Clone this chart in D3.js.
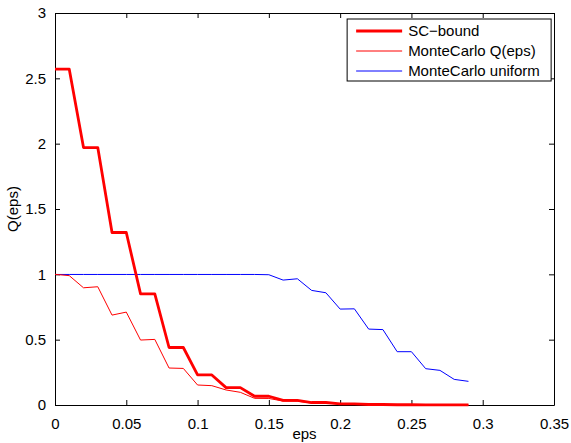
<!DOCTYPE html>
<html>
<head>
<meta charset="utf-8">
<script src="https://cdn.jsdelivr.net/npm/d3@7"></script>
<style>
  body { margin: 0; background: #fff; }
  svg text { font-family: "Liberation Sans", Arial, Helvetica, sans-serif; font-size: 15px; fill: #000; }
  .axis path, .axis line { stroke: #000; }
</style>
</head>
<body>
<div id="chart"></div>
<script>
// eps grid, 0 .. 0.29
var eps = [0, 0.01, 0.02, 0.03, 0.04, 0.05, 0.06, 0.07, 0.08, 0.09,
           0.10, 0.11, 0.12, 0.13, 0.14, 0.15, 0.16, 0.17, 0.18, 0.19,
           0.20, 0.21, 0.22, 0.23, 0.24, 0.25, 0.26, 0.27, 0.28, 0.29];

var scBound = [2.57, 2.57, 1.97, 1.97, 1.32, 1.32, 0.85, 0.85, 0.44, 0.44,
               0.23, 0.23, 0.133, 0.133, 0.067, 0.067, 0.036, 0.036, 0.019, 0.019,
               0.009, 0.009, 0.004, 0.004, 0.002, 0.002, 0.001, 0.001, 0.0005, 0.0005];

var mcQ = [1.0, 0.99, 0.897, 0.905, 0.688, 0.711, 0.497, 0.502, 0.283, 0.28,
           0.153, 0.148, 0.115, 0.097, 0.051, 0.05, 0.03, 0.029, 0.015, 0.014,
           0.008, 0.007, 0.004, 0.003, 0.002, 0.002, 0.001, 0.001, 0.0005, 0.0005];

var mcUniform = [0.999, 0.999, 0.999, 0.999, 0.999, 0.999, 0.999, 0.999, 0.999, 0.999,
                 0.999, 0.999, 0.999, 0.999, 0.999, 0.997, 0.956, 0.966, 0.877, 0.859,
                 0.734, 0.736, 0.581, 0.577, 0.408, 0.408, 0.278, 0.265, 0.196, 0.181];

var xTicks = [0, 0.05, 0.1, 0.15, 0.2, 0.25, 0.3, 0.35];
var yTicks = [0, 0.5, 1, 1.5, 2, 2.5, 3];

var seriesNames = ["SC\u2212bound", "MonteCarlo Q(eps)", "MonteCarlo uniform"];
var seriesData = [scBound, mcQ, mcUniform];
var seriesColor = ["#ff0000", "#ff0000", "#0000ff"];
var seriesWidth = [2.8, 1, 1];

var margin = {top: 13, right: 17, bottom: 38, left: 55},
    width = 571 - margin.left - margin.right,
    height = 443 - margin.top - margin.bottom;

var x = d3.scaleLinear().domain([0, 0.35]).range([0, width]);
var y = d3.scaleLinear().domain([0, 3]).range([height, 0]);

var svg = d3.select("#chart").append("svg")
    .attr("width", width + margin.left + margin.right)
    .attr("height", height + margin.top + margin.bottom)
  .append("g")
    .attr("transform", "translate(" + margin.left + "," + margin.top + ")");

var fmt = function(d) { return d3.format("")(+d.toFixed(2)); };

// box with inward ticks on all four sides (matlab style)
svg.append("g").attr("class", "axis")
    .attr("transform", "translate(0," + height + ")")
    .call(d3.axisBottom(x).tickValues(xTicks).tickFormat(fmt).tickSizeInner(-5).tickSizeOuter(0).tickPadding(13));
svg.append("g").attr("class", "axis")
    .call(d3.axisTop(x).tickValues(xTicks).tickFormat("").tickSizeInner(-5).tickSizeOuter(0));
svg.append("g").attr("class", "axis")
    .call(d3.axisLeft(y).tickValues(yTicks).tickFormat(fmt).tickSizeInner(-5).tickSizeOuter(0).tickPadding(9));
svg.append("g").attr("class", "axis")
    .attr("transform", "translate(" + width + ",0)")
    .call(d3.axisRight(y).tickValues(yTicks).tickFormat("").tickSizeInner(-5).tickSizeOuter(0));

svg.selectAll(".axis text").style("font-size", "15px");

var line = d3.line()
    .x(function(d, i) { return x(eps[i]); })
    .y(function(d) { return y(d); });

// draw thin ones first, thick bound on top
[2, 1, 0].forEach(function(k) {
  svg.append("path")
    .datum(seriesData[k])
    .attr("fill", "none")
    .attr("stroke", seriesColor[k])
    .attr("stroke-width", seriesWidth[k])
    .attr("stroke-linejoin", "round")
    .attr("d", line);
});

// axis labels
svg.append("text")
    .attr("x", width / 2)
    .attr("y", height + 34)
    .attr("text-anchor", "middle")
    .text("eps");

svg.append("text")
    .attr("transform", "translate(" + (-37) + "," + (height / 2) + ") rotate(-90)")
    .attr("text-anchor", "middle")
    .text("Q(eps)");

// legend
var lg = svg.append("g").attr("transform", "translate(" + (x(0.2049)) + ",6)");
lg.append("rect")
    .attr("width", 204).attr("height", 62)
    .attr("fill", "#fff").attr("stroke", "#000").attr("stroke-width", 1);
seriesNames.forEach(function(name, i) {
  var yy = 12 + i * 20;
  lg.append("line")
    .attr("x1", 9).attr("x2", 55).attr("y1", yy).attr("y2", yy)
    .attr("stroke", seriesColor[i]).attr("stroke-width", seriesWidth[i]);
  lg.append("text")
    .attr("x", 61).attr("y", yy + 5)
    .text(name);
});
</script>
</body>
</html>
